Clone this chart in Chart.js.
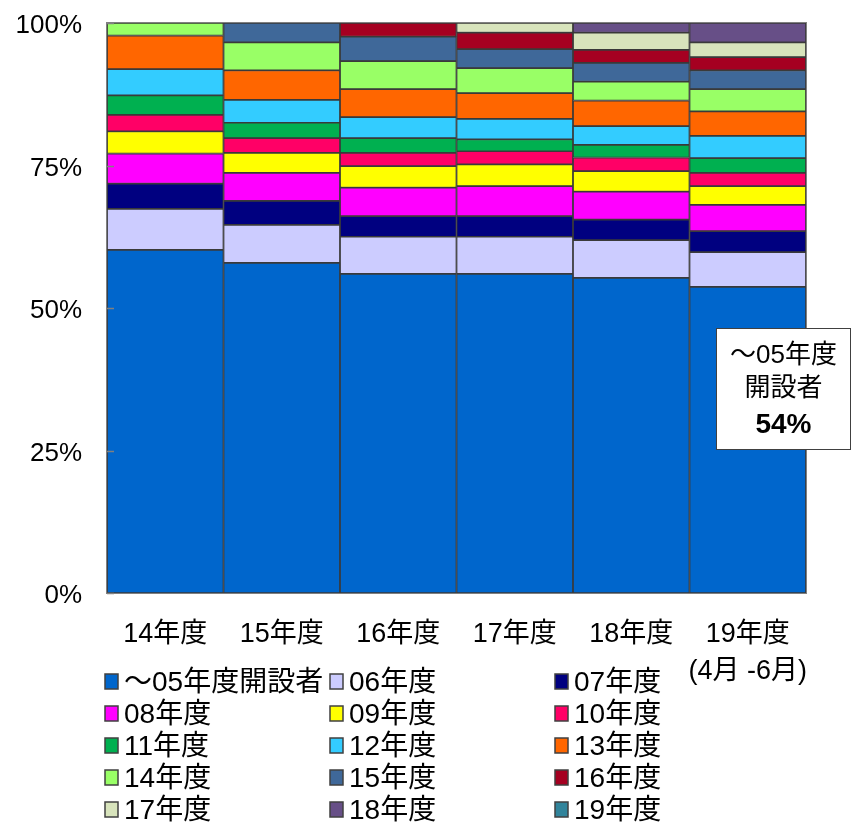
<!DOCTYPE html>
<html>
<head>
<meta charset="utf-8">
<script src="https://cdn.jsdelivr.net/npm/chart.js@4"></script>
<style>
  html, body { margin: 0; padding: 0; background: #fff; }
  canvas { display: block; }
</style>
</head>
<body>
<canvas id="c" width="852" height="824"></canvas>
<script>
// ---- data ----
const years = ['14年度', '15年度', '16年度', '17年度', '18年度', ['19年度', '(4月 -6月)']];
const seriesNames = ['～05年度開設者', '06年度', '07年度', '08年度', '09年度', '10年度', '11年度', '12年度', '13年度', '14年度', '15年度', '16年度', '17年度', '18年度', '19年度'];
const s05 = [60.2, 57.9, 56.0, 56.0, 55.3, 53.7];
const s06 = [7.2, 6.7, 6.5, 6.5, 6.6, 6.1];
const s07 = [4.4, 4.2, 3.6, 3.6, 3.6, 3.7];
const s08 = [5.3, 4.9, 5.0, 5.3, 4.9, 4.6];
const s09 = [3.9, 3.5, 3.8, 3.8, 3.6, 3.3];
const s10 = [2.9, 2.6, 2.3, 2.3, 2.4, 2.3];
const s11 = [3.4, 2.7, 2.6, 2.1, 2.2, 2.6];
const s12 = [4.6, 4.0, 3.7, 3.6, 3.3, 3.9];
const s13 = [5.9, 5.2, 4.9, 4.5, 4.5, 4.3];
const s14 = [2.2, 4.9, 4.9, 4.4, 3.3, 3.9];
const s15 = [null, 3.4, 4.3, 3.3, 3.3, 3.3];
const s16 = [null, null, 2.4, 2.9, 2.3, 2.3];
const s17 = [null, null, null, 1.7, 3.0, 2.6];
const s18 = [null, null, null, null, 1.7, 3.4];
const s19 = [null, null, null, null, null, null];
const yTicks = [0, 25, 50, 75, 100];
const noteLines = ['～05年度', '開設者'];
const noteValue = '54%';

// ---- styles ----
const colors = ['#0066CC', '#CCCCFF', '#000080', '#FF00FF', '#FFFF00', '#FF0066', '#00B050', '#33CCFF', '#FF6600', '#99FF66', '#3F6899', '#A50021', '#D8E4BC', '#674F87', '#31849B'];
const allSeries = [s05, s06, s07, s08, s09, s10, s11, s12, s13, s14, s15, s16, s17, s18, s19];
const FONT = '"Liberation Sans", Arial, "Noto Sans CJK JP", sans-serif';

const datasets = allSeries.map((d, i) => ({
  label: seriesNames[i],
  data: d,
  backgroundColor: colors[i],
  borderColor: '#3a3a3a',
  borderWidth: 1.2,
  borderSkipped: false,
  barPercentage: 1,
  categoryPercentage: 1
}));

const framePlugin = {
  id: 'frame',
  beforeDatasetsDraw(chart) {
    const { ctx, chartArea: a } = chart;
    ctx.save();
    ctx.strokeStyle = '#808080';
    ctx.lineWidth = 2;
    ctx.strokeRect(a.left, a.top, a.right - a.left, a.bottom - a.top);
    ctx.restore();
  },
  afterDatasetsDraw(chart) {
    const { ctx, chartArea: a, scales } = chart;
    ctx.save();
    ctx.strokeStyle = '#808080';
    ctx.lineWidth = 1.5;
    yTicks.forEach(v => {
      const y = Math.round(scales.y.getPixelForValue(v)) + 0.5;
      ctx.beginPath();
      ctx.moveTo(a.left, y);
      ctx.lineTo(a.left + 7, y);
      ctx.stroke();
    });
    ctx.restore();
  },
  afterDraw(chart) {
    const { ctx } = chart;
    ctx.save();
    // annotation box
    const bx = 716, by = 328, bw = 135, bh = 122;
    ctx.fillStyle = '#fff';
    ctx.fillRect(bx, by, bw, bh);
    ctx.strokeStyle = '#404040';
    ctx.lineWidth = 1;
    ctx.strokeRect(bx + 0.5, by + 0.5, bw - 1, bh - 1);
    ctx.fillStyle = '#000';
    ctx.textAlign = 'center';
    ctx.textBaseline = 'middle';
    ctx.font = '26px ' + FONT;
    ctx.fillText(noteLines[0], bx + bw / 2, by + 28);
    ctx.fillText(noteLines[1], bx + bw / 2, by + 61);
    ctx.font = 'bold 28px ' + FONT;
    ctx.fillText(noteValue, bx + bw / 2, by + 97);

    // legend: 3 columns x 5 rows
    const colX = [105, 330, 555];
    const rowY = [682, 714, 746, 778, 810];
    ctx.textAlign = 'left';
    ctx.font = '28px ' + FONT;
    chart.data.datasets.forEach((ds, i) => {
      const x = colX[i % 3];
      const y = rowY[Math.floor(i / 3)];
      ctx.fillStyle = ds.backgroundColor;
      ctx.fillRect(x, y - 8, 13, 15);
      ctx.strokeStyle = '#404040';
      ctx.lineWidth = 1.5;
      ctx.strokeRect(x, y - 8, 13, 15);
      ctx.fillStyle = '#000';
      ctx.fillText(ds.label, x + 19, y + 1);
    });
    ctx.restore();
  }
};

new Chart(document.getElementById('c'), {
  type: 'bar',
  data: { labels: years, datasets },
  options: {
    responsive: false,
    animation: false,
    devicePixelRatio: 1,
    layout: { padding: { left: 0, right: 46, top: 23, bottom: 111 } },
    plugins: { legend: { display: false }, tooltip: { enabled: false } },
    scales: {
      x: {
        stacked: true,
        grid: { display: false, drawTicks: false },
        border: { display: false },
        ticks: { color: '#000', font: { family: FONT, size: 27, lineHeight: 1.36 }, padding: 23, maxRotation: 0, autoSkip: false },
        afterFit: s => { s.height = 120; s.paddingLeft = 0; s.paddingRight = 0; }
      },
      y: {
        stacked: true,
        min: 0,
        max: 100,
        afterBuildTicks: s => { s.ticks = yTicks.map(v => ({ value: v })); },
        ticks: { color: '#000', font: { family: FONT, size: 26 }, padding: 25, labelOffset: 3, callback: v => v + '%' },
        grid: { display: false, drawTicks: false },
        border: { display: true, color: '#808080', width: 2 },
        afterFit: s => { s.width = 107; s.paddingTop = 0; s.paddingBottom = 0; }
      }
    }
  },
  plugins: [framePlugin]
});
</script>
</body>
</html>
